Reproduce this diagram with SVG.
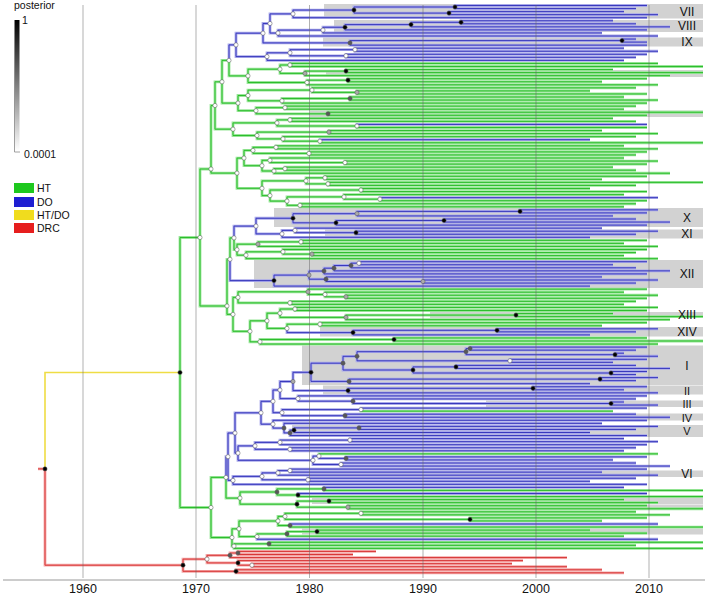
<svg xmlns="http://www.w3.org/2000/svg" width="708" height="596" viewBox="0 0 708 596">
<style>
text{font-family:"Liberation Sans",Arial,sans-serif;fill:#111}
.lg{font-size:10.5px}
.yr{font-size:12.5px;text-anchor:middle}
.cl{font-size:12px;text-anchor:middle}
.cs{font-size:11px;text-anchor:middle}
.box{fill:#d2d2d2}
.h{fill:none;stroke-width:2.8}
.c{fill:none;stroke-width:1}
.gh{stroke:#98e698}.gc{stroke:#2dbd2d}
.bh{stroke:#a9a9ea}.bc{stroke:#3939bd}
.rh{stroke:#f4a6a6}.rc{stroke:#d83838}
.grid{stroke:#666;stroke-opacity:.5;stroke-width:1}
circle{stroke:#555;stroke-width:.5}
.w{fill:#fff}.g{fill:#aaa}.d{fill:#585858}.k{fill:#000}
</style>
<defs>
<linearGradient id="post" x1="0" y1="0" x2="0" y2="1"><stop offset="0" stop-color="#000"/><stop offset="1" stop-color="#fff"/></linearGradient>
<path id="pb" d="M229 60.4V44.9H236M236 44.9V33.2H263M236 44.9V56.6H267M263 33.2V23.5H270M263 33.2V42.9H350M270 23.5V13.9H293M270 23.5V33.05H278M293 13.9V10.05H354M293 13.9V17.7H647M354 10.05V7H455M354 10.05V13.1H449M455 7V5.5H647M455 7V8.55H636M449 13.1V11.6H624M449 13.1V14.65H658M278 33.05V30.1H323M278 33.05V36H658M323 30.1V27.25H345M323 30.1V32.95H602M345 27.25V24.6H411M345 27.25V29.9H647M411 24.6V22.3H461M411 24.6V26.85H670M461 22.3V20.75H613M461 22.3V23.8H636M350 42.9V40.6H622M350 42.9V45.15H647M622 40.6V39.05H636M622 40.6V42.1H647M267 56.6V52.8H290M267 56.6V60.4H624M290 52.8V49.7H355M290 52.8V55.8H346M355 49.7V48.2H624M355 49.7V51.25H658M346 55.8V54.3H647M346 55.8V57.35H636
M357 126V124.45H647M320 141.2V139.7H590M380 199.2V197.65H658
M234 237.9V226.1H256M256 226.1V218.25H293M256 226.1V233.9H282M293 218.25V213.7H357M293 218.25V222.8H336M357 213.7V211.4H520M357 213.7V215.95H613M520 211.4V209.85H658M520 211.4V212.9H647M336 222.8V220.5H444M336 222.8V225.1H647M444 220.5V219H636M444 220.5V222.05H670M282 233.9V230.4H295M282 233.9V237.3H590M295 230.4V228.15H602M295 230.4V232.7H356M356 232.7V231.2H658M356 232.7V234.25H636
M230 259.3V280.6H274M274 280.6V275.1H309M274 280.6V286.1H590M309 275.1V271.05H324M309 275.1V279.2H326M324 271.05V268.2H334M324 271.05V273.9H647M334 268.2V265.5H351M334 268.2V270.85H670M351 265.5V263.2H359M351 265.5V267.8H636M359 263.2V261.7H647M359 263.2V264.75H613M326 279.2V276.95H602M326 279.2V281.5H423M423 281.5V280H658M423 281.5V283.05H636
M287 328.4V332.6H353M353 332.6V330.3H497M353 332.6V334.9H590M497 330.3V328.8H658M497 330.3V331.85H636
M226 477.4V456.7H228M228 456.7V433H235M228 456.7V480.4H233M235 433V412.8H261M235 433V453.1H238M261 412.8V401.3H273M261 412.8V424.2H273M273 401.3V390H280M273 401.3V412.7H282M280 390V381.5H293M280 390V398.6H298M293 381.5V372.3H311M293 381.5V390.6H348M311 372.3V363.2H343M311 372.3V381.4H349M343 363.2V356.3H357M343 363.2V370H413M357 356.3V351.7H466M357 356.3V360.8H510M466 351.7V348.6H470M466 351.7V354.7H615M470 348.6V347.1H647M470 348.6V350.15H636M615 354.7V353.2H624M615 354.7V356.25H658M510 360.8V359.3H647M510 360.8V362.35H613M413 370V366.9H456M413 370V373H611M456 366.9V365.4H636M456 366.9V368.45H670M611 373V371.5H647M611 373V374.55H636M349 381.4V379.1H600M349 381.4V383.7H590M600 379.1V377.6H658M600 379.1V380.65H636M348 390.6V388.3H533M348 390.6V392.85H658M533 388.3V386.75H647M533 388.3V389.8H624M298 398.6V395.9H647M298 398.6V401.2H353M353 401.2V398.95H636M353 401.2V403.5H611M611 403.5V402H624M611 403.5V405.05H658M282 412.7V409.6H361M282 412.7V415.7H345M361 409.6V408.1H647M345 415.7V414.2H636M345 415.7V417.25H670M273 424.2V420.3H647M273 424.2V428.1H284M284 428.1V423.35H602M284 428.1V432.9H290M290 432.9V430.2H294M290 432.9V435.55H647M294 430.2V427.9H359M294 430.2V432.5H590M359 427.9V426.4H658M359 427.9V429.45H636M238 453.1V445.9H255M238 453.1V460.3H313M255 445.9V442.4H280M255 445.9V449.3H290M280 442.4V440.1H350M280 442.4V444.7H647M350 440.1V438.6H624M350 440.1V441.65H658M290 449.3V447.75H636M290 449.3V450.8H624M313 460.3V456.1H319M313 460.3V464.5H341M319 456.1V458.4H346M346 458.4V456.9H647M346 458.4V459.95H613M341 464.5V463H636M341 464.5V466.05H670M233 480.4V476.4H262M233 480.4V484.35H647M262 476.4V472.9H278M262 476.4V479.8H308M278 472.9V470.6H290M278 472.9V475.2H658M290 470.6V469.1H647M290 470.6V472.15H602M308 479.8V478.25H636M308 479.8V481.3H590
M324 488.9V487.4H624M298 495V493.5H647M290 525.5V524H658M257 536.6V539.25H658"/>
<path id="pg" d="M180 372.5V237.5H200M180 372.5V507.5H211M200 237.5V169H211M200 237.5V306H227M211 169V105.5H215M211 169V173.1H237M215 105.5V81.8H222M215 105.5V129.2H233M222 81.8V60.4H229M222 81.8V103.1H238M229 60.4V75.9H248M248 75.9V69.2H280M248 75.9V82.5H307M280 69.2V65H290M280 69.2V73.4H305M290 65V63.45H658M290 65V66.5H703M305 73.4V71.1H346M305 73.4V75.65H670M346 71.1V69.55H613M346 71.1V72.6H703M307 82.5V80.2H348M307 82.5V84.8H658M348 80.2V78.7H647M348 80.2V81.75H602M238 103.1V95.5H248M238 103.1V110.7H256M248 95.5V90.1H312M248 95.5V100.8H282M312 90.1V87.85H636M312 90.1V92.4H357M357 92.4V90.9H590M357 92.4V93.95H647M282 100.8V98.5H350M282 100.8V103.1H647M350 98.5V97H624M350 98.5V100.05H658M256 110.7V107.7H285M256 110.7V113.8H328M285 107.7V106.15H636M285 107.7V109.2H624M328 113.8V112.25H703M328 113.8V115.3H647M233 129.2V122.9H277M233 129.2V135.5H257M277 122.9V119.9H290M277 122.9V126H357M290 119.9V118.35H613M290 119.9V121.4H636M357 126V127.5H647M257 135.5V132.1H329M257 135.5V138.9H283M329 132.1V130.55H602M329 132.1V133.6H658M283 138.9V136.65H636M283 138.9V141.2H320M320 141.2V142.75H703M237 173.1V158.05H244M237 173.1V188.3H262M244 158.05V150.4H253M244 158.05V165.7H262M253 150.4V147.3H276M253 150.4V153.4H309M276 147.3V145.8H624M276 147.3V148.85H658M309 153.4V151.9H647M309 153.4V154.95H636M262 165.7V160.3H270M262 165.7V171H274M270 160.3V158H624M270 160.3V162.6H345M345 162.6V161.05H658M345 162.6V164.1H647M274 171V168.7H285M274 171V173.25H670M285 168.7V167.15H613M285 168.7V170.2H636M262 188.3V180.9H306M262 188.3V195.6H270M306 180.9V177.8H325M306 180.9V183.9H328M325 177.8V176.3H647M325 177.8V179.35H602M328 183.9V182.4H703M328 183.9V185.45H636M270 195.6V190H361M270 195.6V201.1H287M361 190V188.5H590M361 190V191.55H647M287 201.1V196.9H344M287 201.1V205.3H300M344 196.9V194.6H624M344 196.9V199.2H380M380 199.2V200.7H647M300 205.3V203.75H636M300 205.3V206.8H624
M227 306V259.3H230M227 306V314.4H233M230 259.3V237.9H234M234 237.9V249.7H237M237 249.7V244.2H258M237 249.7V255.2H246M258 244.2V241.9H301M258 244.2V246.45H658M301 241.9V240.35H647M301 241.9V243.4H624M246 255.2V251.8H283M246 255.2V258.65H658M283 251.8V249.5H647M283 251.8V254.1H312M312 254.1V252.55H636M312 254.1V255.6H624M233 314.4V297.4H238M233 314.4V331.3H250M238 297.4V291.8H308M238 297.4V302.9H290M308 291.8V289.15H647M308 291.8V294.5H325M325 294.5V292.2H624M325 294.5V296.8H346M346 296.8V295.25H658M346 296.8V298.3H647M290 302.9V301.35H636M290 302.9V304.4H624M250 331.3V320.8H267M250 331.3V341.8H260M267 320.8V313.2H280M267 320.8V328.4H287M280 313.2V309H295M280 313.2V317.4H346M295 309V307.45H658M295 309V310.5H647M346 317.4V315.1H516M346 317.4V319.65H670M516 315.1V313.55H613M516 315.1V316.6H703M287 328.4V324.2H320M320 324.2V322.7H647M320 324.2V325.75H602M260 341.8V339.5H394M260 341.8V344.05H658M394 339.5V337.95H647M394 339.5V341H703
M361 409.6V411.15H613M319 456.1V453.85H658
M211 507.5V477.4H226M211 507.5V537.5H232M226 477.4V498.1H240M240 498.1V492H277M240 498.1V504.2H297M277 492V488.9H324M277 492V495H298M324 488.9V490.45H703M298 495V496.55H703M297 504.2V501.1H329M297 504.2V507.2H348M329 501.1V499.6H624M329 501.1V502.65H658M348 507.2V505.7H647M348 507.2V508.75H703M232 537.5V528.8H239M232 537.5V546.1H234M239 528.8V521H278M239 528.8V536.6H257M278 521V516.4H285M278 521V525.5H290M285 516.4V513.3H361M285 516.4V519.4H470M361 513.3V511.8H636M361 513.3V514.85H670M470 519.4V517.9H647M470 519.4V520.95H602M290 525.5V527.05H703M257 536.6V533.9H287M287 533.9V531.6H317M287 533.9V536.2H624M317 531.6V530.1H590M317 531.6V533.15H647M234 546.1V543.8H269M234 546.1V548.4H703M269 543.8V542.3H703M269 543.8V545.35H636"/>
<path id="pr" d="M38 468.9H45M45 468.9V565.2H183M183 565.2V559.1H207M183 565.2V571.3H236M207 559.1V555.3H230M207 559.1V562.9H238M230 555.3V553H238M230 555.3V557.55H567M238 553V551.45H376M238 553V554.5H353M238 562.9V560.6H523M238 562.9V565.2H252M252 565.2V563.65H512M252 565.2V566.7H567M236 571.3V569.75H602M236 571.3V572.8H624"/>
</defs>
<g id="clade-shading">
<rect class="box" x="324" y="4" width="379" height="14.5"/>
<rect class="box" x="334" y="20" width="369" height="12"/>
<rect class="box" x="323" y="37.5" width="380" height="9"/>
<rect class="box" x="326" y="70" width="377" height="7"/>
<rect class="box" x="310" y="110.5" width="393" height="6.5"/>
<rect class="box" x="274" y="208" width="429" height="19"/>
<rect class="box" x="325" y="229.5" width="378" height="9"/>
<rect class="box" x="254" y="260" width="449" height="28"/>
<rect class="box" x="430" y="312" width="273" height="6"/>
<rect class="box" x="320" y="327" width="383" height="9.5"/>
<rect class="box" x="302" y="345.5" width="401" height="39.5"/>
<rect class="box" x="323" y="385.5" width="380" height="9"/>
<rect class="box" x="486" y="400.5" width="217" height="6.5"/>
<rect class="box" x="440" y="413.5" width="263" height="7"/>
<rect class="box" x="292" y="425" width="411" height="12"/>
<rect class="box" x="310" y="470.5" width="393" height="6.5"/>
<rect class="box" x="312" y="498" width="391" height="6"/>
<rect class="box" x="348" y="504.5" width="355" height="5.5"/>
<rect class="box" x="302" y="528.5" width="401" height="6"/>
</g>
<g id="connectors">
<use href="#pg" class="h gh"/>
<use href="#pb" class="h bh"/>
<use href="#pr" class="h rh"/>
<use href="#pg" class="c gc"/>
<use href="#pb" class="c bc"/>
<use href="#pr" class="c rc"/>
<path d="M45 468.9V372.5H180" fill="none" stroke="#efdd44" stroke-width="1.6"/>
</g>
<g id="grid">
<path class="grid" d="M83 5V578M196 5V578M309.5 5V578M423 5V578M536 5V578M649 5V578"/>
<path d="M3 580H705" stroke="#999" stroke-width="1.2"/>
</g>
<g id="tree-nodes">
<circle class="k" cx="45" cy="468.9" r="2.1"/>
<circle class="k" cx="180" cy="372.5" r="2.1"/>
<circle class="k" cx="183" cy="565.2" r="2.1"/>
<circle class="w" cx="207" cy="559.1" r="2.1"/>
<circle class="d" cx="230" cy="555.3" r="2.1"/>
<circle class="d" cx="238" cy="553" r="2.1"/>
<circle class="k" cx="238" cy="562.9" r="2.1"/>
<circle class="w" cx="252" cy="565.2" r="2.1"/>
<circle class="k" cx="236" cy="571.3" r="2.1"/>
<circle class="w" cx="200" cy="237.5" r="2.1"/>
<circle class="w" cx="211" cy="169" r="2.1"/>
<circle class="w" cx="215" cy="105.5" r="2.1"/>
<circle class="w" cx="222" cy="81.8" r="2.1"/>
<circle class="w" cx="229" cy="60.4" r="2.1"/>
<circle class="w" cx="236" cy="44.9" r="2.1"/>
<circle class="w" cx="263" cy="33.2" r="2.1"/>
<circle class="w" cx="270" cy="23.5" r="2.1"/>
<circle class="w" cx="293" cy="13.9" r="2.1"/>
<circle class="k" cx="354" cy="10.05" r="2.1"/>
<circle class="k" cx="455" cy="7" r="2.1"/>
<circle class="k" cx="449" cy="13.1" r="2.1"/>
<circle class="w" cx="278" cy="33.05" r="2.1"/>
<circle class="w" cx="323" cy="30.1" r="2.1"/>
<circle class="k" cx="345" cy="27.25" r="2.1"/>
<circle class="k" cx="411" cy="24.6" r="2.1"/>
<circle class="k" cx="461" cy="22.3" r="2.1"/>
<circle class="d" cx="350" cy="42.9" r="2.1"/>
<circle class="k" cx="622" cy="40.6" r="2.1"/>
<circle class="w" cx="267" cy="56.6" r="2.1"/>
<circle class="w" cx="290" cy="52.8" r="2.1"/>
<circle class="w" cx="355" cy="49.7" r="2.1"/>
<circle class="w" cx="346" cy="55.8" r="2.1"/>
<circle class="w" cx="248" cy="75.9" r="2.1"/>
<circle class="w" cx="280" cy="69.2" r="2.1"/>
<circle class="w" cx="290" cy="65" r="2.1"/>
<circle class="g" cx="305" cy="73.4" r="2.1"/>
<circle class="k" cx="346" cy="71.1" r="2.1"/>
<circle class="w" cx="307" cy="82.5" r="2.1"/>
<circle class="k" cx="348" cy="80.2" r="2.1"/>
<circle class="w" cx="238" cy="103.1" r="2.1"/>
<circle class="w" cx="248" cy="95.5" r="2.1"/>
<circle class="w" cx="312" cy="90.1" r="2.1"/>
<circle class="g" cx="357" cy="92.4" r="2.1"/>
<circle class="w" cx="282" cy="100.8" r="2.1"/>
<circle class="d" cx="350" cy="98.5" r="2.1"/>
<circle class="w" cx="256" cy="110.7" r="2.1"/>
<circle class="w" cx="285" cy="107.7" r="2.1"/>
<circle class="d" cx="328" cy="113.8" r="2.1"/>
<circle class="w" cx="233" cy="129.2" r="2.1"/>
<circle class="w" cx="277" cy="122.9" r="2.1"/>
<circle class="w" cx="290" cy="119.9" r="2.1"/>
<circle class="w" cx="357" cy="126" r="2.1"/>
<circle class="w" cx="257" cy="135.5" r="2.1"/>
<circle class="g" cx="329" cy="132.1" r="2.1"/>
<circle class="w" cx="283" cy="138.9" r="2.1"/>
<circle class="w" cx="320" cy="141.2" r="2.1"/>
<circle class="w" cx="237" cy="173.1" r="2.1"/>
<circle class="w" cx="244" cy="158.05" r="2.1"/>
<circle class="w" cx="253" cy="150.4" r="2.1"/>
<circle class="w" cx="276" cy="147.3" r="2.1"/>
<circle class="w" cx="309" cy="153.4" r="2.1"/>
<circle class="w" cx="262" cy="165.7" r="2.1"/>
<circle class="w" cx="270" cy="160.3" r="2.1"/>
<circle class="w" cx="345" cy="162.6" r="2.1"/>
<circle class="w" cx="274" cy="171" r="2.1"/>
<circle class="w" cx="285" cy="168.7" r="2.1"/>
<circle class="w" cx="262" cy="188.3" r="2.1"/>
<circle class="w" cx="306" cy="180.9" r="2.1"/>
<circle class="w" cx="325" cy="177.8" r="2.1"/>
<circle class="w" cx="328" cy="183.9" r="2.1"/>
<circle class="w" cx="270" cy="195.6" r="2.1"/>
<circle class="w" cx="361" cy="190" r="2.1"/>
<circle class="w" cx="287" cy="201.1" r="2.1"/>
<circle class="w" cx="344" cy="196.9" r="2.1"/>
<circle class="w" cx="380" cy="199.2" r="2.1"/>
<circle class="w" cx="300" cy="205.3" r="2.1"/>
<circle class="w" cx="227" cy="306" r="2.1"/>
<circle class="w" cx="230" cy="259.3" r="2.1"/>
<circle class="w" cx="234" cy="237.9" r="2.1"/>
<circle class="w" cx="256" cy="226.1" r="2.1"/>
<circle class="k" cx="293" cy="218.25" r="2.1"/>
<circle class="g" cx="357" cy="213.7" r="2.1"/>
<circle class="k" cx="520" cy="211.4" r="2.1"/>
<circle class="k" cx="336" cy="222.8" r="2.1"/>
<circle class="k" cx="444" cy="220.5" r="2.1"/>
<circle class="w" cx="282" cy="233.9" r="2.1"/>
<circle class="w" cx="295" cy="230.4" r="2.1"/>
<circle class="k" cx="356" cy="232.7" r="2.1"/>
<circle class="w" cx="237" cy="249.7" r="2.1"/>
<circle class="g" cx="258" cy="244.2" r="2.1"/>
<circle class="w" cx="301" cy="241.9" r="2.1"/>
<circle class="w" cx="246" cy="255.2" r="2.1"/>
<circle class="w" cx="283" cy="251.8" r="2.1"/>
<circle class="g" cx="312" cy="254.1" r="2.1"/>
<circle class="k" cx="274" cy="280.6" r="2.1"/>
<circle class="g" cx="309" cy="275.1" r="2.1"/>
<circle class="d" cx="324" cy="271.05" r="2.1"/>
<circle class="d" cx="334" cy="268.2" r="2.1"/>
<circle class="d" cx="351" cy="265.5" r="2.1"/>
<circle class="w" cx="359" cy="263.2" r="2.1"/>
<circle class="d" cx="326" cy="279.2" r="2.1"/>
<circle class="g" cx="423" cy="281.5" r="2.1"/>
<circle class="w" cx="233" cy="314.4" r="2.1"/>
<circle class="w" cx="238" cy="297.4" r="2.1"/>
<circle class="g" cx="308" cy="291.8" r="2.1"/>
<circle class="w" cx="325" cy="294.5" r="2.1"/>
<circle class="g" cx="346" cy="296.8" r="2.1"/>
<circle class="w" cx="290" cy="302.9" r="2.1"/>
<circle class="w" cx="250" cy="331.3" r="2.1"/>
<circle class="w" cx="267" cy="320.8" r="2.1"/>
<circle class="w" cx="280" cy="313.2" r="2.1"/>
<circle class="w" cx="295" cy="309" r="2.1"/>
<circle class="g" cx="346" cy="317.4" r="2.1"/>
<circle class="k" cx="516" cy="315.1" r="2.1"/>
<circle class="w" cx="287" cy="328.4" r="2.1"/>
<circle class="w" cx="320" cy="324.2" r="2.1"/>
<circle class="k" cx="353" cy="332.6" r="2.1"/>
<circle class="k" cx="497" cy="330.3" r="2.1"/>
<circle class="w" cx="260" cy="341.8" r="2.1"/>
<circle class="k" cx="394" cy="339.5" r="2.1"/>
<circle class="w" cx="211" cy="507.5" r="2.1"/>
<circle class="w" cx="226" cy="477.4" r="2.1"/>
<circle class="w" cx="228" cy="456.7" r="2.1"/>
<circle class="w" cx="235" cy="433" r="2.1"/>
<circle class="w" cx="261" cy="412.8" r="2.1"/>
<circle class="w" cx="273" cy="401.3" r="2.1"/>
<circle class="w" cx="280" cy="390" r="2.1"/>
<circle class="g" cx="293" cy="381.5" r="2.1"/>
<circle class="k" cx="311" cy="372.3" r="2.1"/>
<circle class="d" cx="343" cy="363.2" r="2.1"/>
<circle class="d" cx="357" cy="356.3" r="2.1"/>
<circle class="d" cx="466" cy="351.7" r="2.1"/>
<circle class="d" cx="470" cy="348.6" r="2.1"/>
<circle class="k" cx="615" cy="354.7" r="2.1"/>
<circle class="w" cx="510" cy="360.8" r="2.1"/>
<circle class="k" cx="413" cy="370" r="2.1"/>
<circle class="k" cx="456" cy="366.9" r="2.1"/>
<circle class="k" cx="611" cy="373" r="2.1"/>
<circle class="d" cx="349" cy="381.4" r="2.1"/>
<circle class="k" cx="600" cy="379.1" r="2.1"/>
<circle class="k" cx="348" cy="390.6" r="2.1"/>
<circle class="k" cx="533" cy="388.3" r="2.1"/>
<circle class="w" cx="298" cy="398.6" r="2.1"/>
<circle class="d" cx="353" cy="401.2" r="2.1"/>
<circle class="k" cx="611" cy="403.5" r="2.1"/>
<circle class="w" cx="282" cy="412.7" r="2.1"/>
<circle class="w" cx="361" cy="409.6" r="2.1"/>
<circle class="d" cx="345" cy="415.7" r="2.1"/>
<circle class="w" cx="273" cy="424.2" r="2.1"/>
<circle class="d" cx="284" cy="428.1" r="2.1"/>
<circle class="d" cx="290" cy="432.9" r="2.1"/>
<circle class="k" cx="294" cy="430.2" r="2.1"/>
<circle class="d" cx="359" cy="427.9" r="2.1"/>
<circle class="w" cx="238" cy="453.1" r="2.1"/>
<circle class="w" cx="255" cy="445.9" r="2.1"/>
<circle class="w" cx="280" cy="442.4" r="2.1"/>
<circle class="w" cx="350" cy="440.1" r="2.1"/>
<circle class="w" cx="290" cy="449.3" r="2.1"/>
<circle class="w" cx="313" cy="460.3" r="2.1"/>
<circle class="w" cx="319" cy="456.1" r="2.1"/>
<circle class="d" cx="346" cy="458.4" r="2.1"/>
<circle class="w" cx="341" cy="464.5" r="2.1"/>
<circle class="w" cx="233" cy="480.4" r="2.1"/>
<circle class="w" cx="262" cy="476.4" r="2.1"/>
<circle class="w" cx="278" cy="472.9" r="2.1"/>
<circle class="w" cx="290" cy="470.6" r="2.1"/>
<circle class="w" cx="308" cy="479.8" r="2.1"/>
<circle class="w" cx="240" cy="498.1" r="2.1"/>
<circle class="d" cx="277" cy="492" r="2.1"/>
<circle class="d" cx="324" cy="488.9" r="2.1"/>
<circle class="k" cx="298" cy="495" r="2.1"/>
<circle class="k" cx="297" cy="504.2" r="2.1"/>
<circle class="k" cx="329" cy="501.1" r="2.1"/>
<circle class="g" cx="348" cy="507.2" r="2.1"/>
<circle class="w" cx="232" cy="537.5" r="2.1"/>
<circle class="w" cx="239" cy="528.8" r="2.1"/>
<circle class="w" cx="278" cy="521" r="2.1"/>
<circle class="w" cx="285" cy="516.4" r="2.1"/>
<circle class="w" cx="361" cy="513.3" r="2.1"/>
<circle class="k" cx="470" cy="519.4" r="2.1"/>
<circle class="d" cx="290" cy="525.5" r="2.1"/>
<circle class="w" cx="257" cy="536.6" r="2.1"/>
<circle class="d" cx="287" cy="533.9" r="2.1"/>
<circle class="k" cx="317" cy="531.6" r="2.1"/>
<circle class="w" cx="234" cy="546.1" r="2.1"/>
<circle class="d" cx="269" cy="543.8" r="2.1"/>
</g>
<g id="clade-labels">
<text class="cl" x="687" y="15.5">VII</text>
<text class="cl" x="687" y="30.3">VIII</text>
<text class="cl" x="687" y="46.3">IX</text>
<text class="cl" x="687" y="221.8">X</text>
<text class="cl" x="687" y="238.3">XI</text>
<text class="cl" x="687" y="278.3">XII</text>
<text class="cl" x="687" y="319.3">XIII</text>
<text class="cl" x="687" y="336">XIV</text>
<text class="cl" x="687" y="369.5">I</text>
<text class="cs" x="687" y="394.5">II</text>
<text class="cs" x="687" y="408">III</text>
<text class="cs" x="687" y="421.5">IV</text>
<text class="cs" x="687" y="435">V</text>
<text class="cl" x="687" y="478">VI</text>
</g>
<g id="axis-labels">
<text class="yr" x="83" y="593">1960</text>
<text class="yr" x="196" y="593">1970</text>
<text class="yr" x="309.5" y="593">1980</text>
<text class="yr" x="423" y="593">1990</text>
<text class="yr" x="536" y="593">2000</text>
<text class="yr" x="649" y="593">2010</text>
</g>
<g id="legend-posterior">
<text class="lg" x="14" y="9">posterior</text>
<rect x="14.5" y="20" width="5" height="131" fill="url(#post)"/>
<path d="M14.5 20V152H20" fill="none" stroke="#888" stroke-width=".8"/>
<text class="lg" x="22" y="24">1</text>
<text class="lg" x="24" y="158">0.0001</text>
</g>
<g id="legend-HT"><rect x="14" y="183" width="20" height="10" fill="#1ec81e"/><text class="lg" x="37" y="192">HT</text></g>
<g id="legend-DO"><rect x="14" y="197" width="20" height="10" fill="#1e1ed2"/><text class="lg" x="37" y="205.5">DO</text></g>
<g id="legend-HTDO"><rect x="14" y="210" width="20" height="10" fill="#f0dc1e"/><text class="lg" x="37" y="219">HT/DO</text></g>
<g id="legend-DRC"><rect x="14" y="223" width="20" height="10" fill="#e61e1e"/><text class="lg" x="37" y="232">DRC</text></g>
</svg>
